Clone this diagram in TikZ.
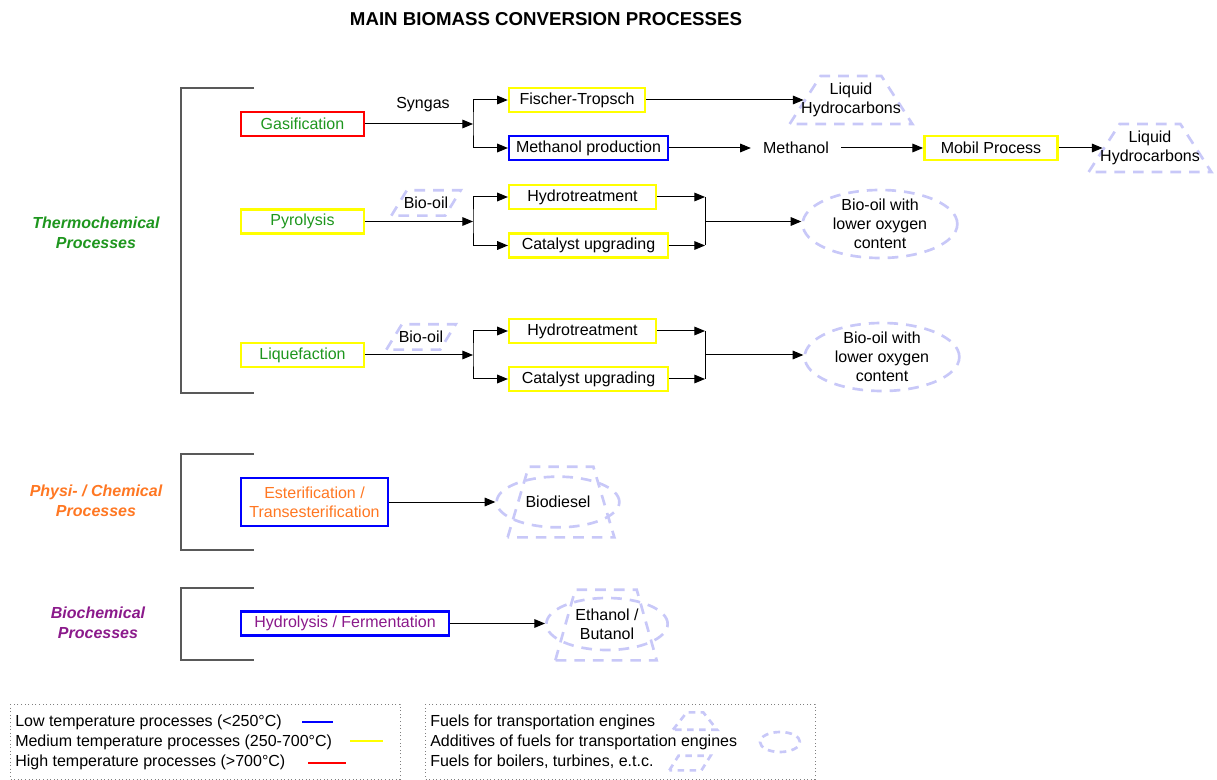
\documentclass[tikz,border=0pt]{standalone}
\usepackage{fontspec}
\setmainfont{Liberation Sans}
\usepackage{xcolor}
\definecolor{procRed}{HTML}{FF0000}
\definecolor{procYellow}{HTML}{FFFF00}
\definecolor{procBlue}{HTML}{0000FF}
\definecolor{thermoGreen}{HTML}{1E961E}
\definecolor{physOrange}{HTML}{FF7722}
\definecolor{bioPurple}{HTML}{8B1A8B}
\definecolor{fuelLilac}{HTML}{C8C8F8}
\usepackage{tikz}
\usetikzlibrary{arrows.meta,shapes.geometric}

\begin{document}
\begin{tikzpicture}[x=0.75pt, y=-0.75pt, >={Triangle[length=8pt,width=6.5pt]},
  font=\fontsize{12}{14.4}\selectfont,
  conn/.style={line width=0.75pt},
  proc/.style={draw, line width=1.9pt, minimum height=18pt, inner sep=0pt, align=center},
  hotproc/.style={proc, draw=procRed},
  midproc/.style={proc, draw=procYellow},
  lowproc/.style={proc, draw=procBlue},
  bracket/.style={draw=black!65, line width=0.8pt},
  group/.style={font=\fontsize{12}{15}\selectfont\bfseries\itshape, align=center},
  fuelline/.style={draw=fuelLilac, line width=2pt, dash pattern=on 8pt off 6pt, inner sep=2pt},
  transport/.style={fuelline, trapezium, trapezium stretches=true,
    trapezium left angle=63, trapezium right angle=63, minimum width=92pt, minimum height=36pt},
  boiler/.style={fuelline, trapezium, trapezium stretches=true,
    trapezium left angle=68, trapezium right angle=112, minimum width=52pt, minimum height=19pt},
  additive/.style={fuelline, ellipse},
  legbox/.style={draw=black!50, dotted, line width=0.7pt},
  legtext/.style={anchor=west, inner sep=0pt}]
  \useasboundingbox (0,0) rectangle (1217,780);

  \node[font=\fontsize{14}{16}\selectfont\bfseries] (title) at (546,19) {MAIN BIOMASS CONVERSION PROCESSES};

  % ---- thermochemical processes ----
  \draw[bracket] (254,88) -| (181,393) -- (254,393);
  \node[group, text=thermoGreen] (thermo) at (96,233) {Thermochemical\\Processes};

  \node[hotproc, minimum width=92pt, text=thermoGreen] (gas) at (302.5,124) {Gasification};
  \node[midproc, minimum width=92pt, text=thermoGreen] (pyr) at (302.5,221.5) {Pyrolysis};
  \node[midproc, minimum width=92pt, text=thermoGreen] (liq) at (302.5,355) {Liquefaction};

  % gasification: syngas route
  \coordinate (gsplit) at (473,124);
  \node (syngas) at (423,105) {Syngas};
  \node[midproc, minimum width=102pt] (ft) at (577,100) {Fischer-Tropsch};
  \node[lowproc, minimum width=119pt] (mp) at (588.5,148) {Methanol production};
  \node[transport, label={[align=center]center:Liquid\\Hydrocarbons}] (lh1) at (851,100) {};
  \node[inner sep=9pt] (meth) at (796,148) {Methanol};
  \node[midproc, minimum width=100pt] (mobil) at (991,148) {Mobil Process};
  \node[transport, label={[align=center]center:Liquid\\Hydrocarbons}] (lh2) at (1150,148) {};
  \draw[conn,->] (gas) -- (gsplit);
  \draw[conn,<->] (ft.west) -| (gsplit) |- (mp.west);
  \draw[conn,->] (ft) -- (lh1);
  \draw[conn,->] (mp) -- (meth);
  \draw[conn,->] (meth) -- (mobil);
  \draw[conn,->] (mobil) -- (lh2);

  % pyrolysis: bio-oil upgrading
  \coordinate (psplit) at (473,221.5);
  \coordinate (pjoin) at (705,221.5);
  \node[boiler, label=center:Bio-oil] (bo1) at (426,203) {};
  \node[midproc, minimum width=110pt] (hyd1) at (582.5,197) {Hydrotreatment};
  \node[midproc, minimum width=119pt] (cat1) at (588.5,245.5) {Catalyst upgrading};
  \node[additive, minimum width=116pt, minimum height=51pt,
    label={[align=center]center:Bio-oil with\\lower oxygen\\content}] (oil1) at (880,224) {};
  \draw[conn,->] (pyr) -- (psplit);
  \draw[conn,<->] (hyd1.west) -| (psplit) |- (cat1.west);
  \draw[conn,->] (hyd1) -- (hyd1 -| pjoin);
  \draw[conn,->] (cat1) -- (cat1 -| pjoin);
  \draw[conn] (hyd1 -| pjoin) -- (cat1 -| pjoin);
  \draw[conn,->] (pjoin) -- (pjoin -| oil1.west);

  % liquefaction: bio-oil upgrading
  \coordinate (lsplit) at (473,355);
  \coordinate (ljoin) at (705,355);
  \node[boiler, label=center:Bio-oil] (bo2) at (421,337) {};
  \node[midproc, minimum width=110pt] (hyd2) at (582.5,331) {Hydrotreatment};
  \node[midproc, minimum width=119pt] (cat2) at (588.5,379) {Catalyst upgrading};
  \node[additive, minimum width=116pt, minimum height=51pt,
    label={[align=center]center:Bio-oil with\\lower oxygen\\content}] (oil2) at (882,357) {};
  \draw[conn,->] (liq) -- (lsplit);
  \draw[conn,<->] (hyd2.west) -| (lsplit) |- (cat2.west);
  \draw[conn,->] (hyd2) -- (hyd2 -| ljoin);
  \draw[conn,->] (cat2) -- (cat2 -| ljoin);
  \draw[conn] (hyd2 -| ljoin) -- (cat2 -| ljoin);
  \draw[conn,->] (ljoin) -- (ljoin -| oil2.west);

  % ---- physi- / chemical processes ----
  \draw[bracket] (254,454) -| (181,550) -- (254,550);
  \node[group, text=physOrange] (physchem) at (96,501) {Physi- / Chemical\\Processes};
  \node[lowproc, minimum width=110pt, minimum height=36pt, text=physOrange] (est) at (314.5,502)
    {Esterification /\\Transesterification};
  \node[transport, trapezium left angle=72, trapezium right angle=72,
    minimum width=80pt, minimum height=53pt] (bdt) at (561,502) {};
  \node[additive, minimum width=92pt, minimum height=38pt, label=center:Biodiesel] (bd) at (558,502) {};
  \draw[conn,->] (est) -- (bd);

  % ---- biochemical processes ----
  \draw[bracket] (254,588) -| (181,660) -- (254,660);
  \node[group, text=bioPurple] (biochem) at (98,623) {Biochemical\\Processes};
  \node[lowproc, minimum width=156pt, text=bioPurple] (hydro) at (345,623.5) {Hydrolysis / Fermentation};
  \node[transport, trapezium left angle=72, trapezium right angle=72,
    minimum width=76pt, minimum height=53pt] (ebt) at (606,625) {};
  \node[additive, minimum width=91pt, minimum height=39pt,
    label={[align=center]center:Ethanol /\\Butanol}] (eb) at (607,624) {};
  \draw[conn,->] (hydro) -- (hydro -| eb.west);

  % ---- legend: process temperature ----
  \draw[legbox] (10,704) rectangle (400,779);
  \node[legtext] (lowleg) at (15,722) {Low temperature processes (<250°C)};
  \node[legtext] (midleg) at (15,742) {Medium temperature processes (250-700°C)};
  \node[legtext] (hotleg) at (15,762) {High temperature processes (>700°C)};
  \draw[procBlue, line width=1.6pt] (302,722) -- (333,722);
  \draw[procYellow, line width=1.6pt] (350,741) -- (383,741);
  \draw[procRed, line width=1.6pt] (308,763) -- (346,763);

  % ---- legend: fuel use ----
  \draw[legbox] (425,704) rectangle (815,779);
  \node[legtext] (transleg) at (430,722) {Fuels for transportation engines};
  \node[legtext] (addleg) at (430,742) {Additives of fuels for transportation engines};
  \node[legtext] (boilleg) at (430,762) {Fuels for boilers, turbines, e.t.c.};
  \node[transport, dash pattern=on 5pt off 4pt, trapezium left angle=50, trapezium right angle=50,
    minimum width=33pt, minimum height=13pt] (transkey) at (695,721) {};
  \node[additive, dash pattern=on 5pt off 4pt, minimum width=30pt, minimum height=15pt] (addkey) at (780,742) {};
  \node[boiler, dash pattern=on 5pt off 4pt, minimum width=31pt, minimum height=11pt] (boilkey) at (690,763) {};
\end{tikzpicture}
\end{document}
